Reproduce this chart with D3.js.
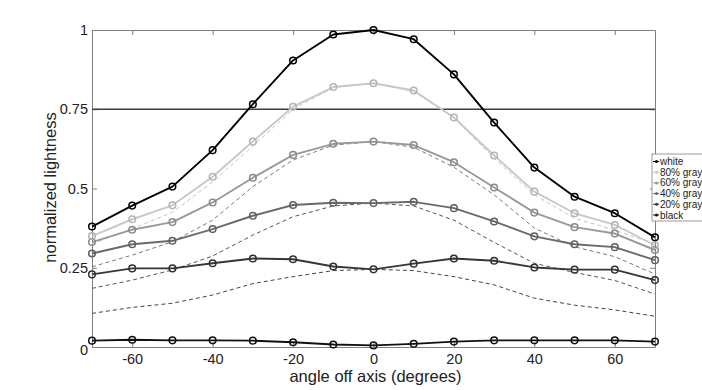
<!DOCTYPE html>
<html>
<head>
<meta charset="utf-8">
<script src="https://cdn.jsdelivr.net/npm/d3@7"></script>
<style>
  html, body { margin: 0; padding: 0; background: #fff; }
  svg { display: block; font-family: "Liberation Sans", Arial, Helvetica, sans-serif; }
</style>
</head>
<body>
<svg id="chart" width="702" height="390"></svg>
<script>
// ---- data ----
const angles = [-70, -60, -50, -40, -30, -20, -10, 0, 10, 20, 30, 40, 50, 60, 70];
const seriesNames = ["white", "80% gray", "60% gray", "40% gray", "20% gray", "black"];
const whiteVals  = [0.380, 0.446, 0.506, 0.621, 0.766, 0.904, 0.986, 1.000, 0.971, 0.860, 0.708, 0.566, 0.474, 0.422, 0.346];
const gray80Vals = [0.350, 0.403, 0.447, 0.537, 0.648, 0.758, 0.820, 0.832, 0.809, 0.724, 0.604, 0.490, 0.422, 0.385, 0.321];
const gray60Vals = [0.331, 0.370, 0.394, 0.456, 0.534, 0.606, 0.641, 0.648, 0.637, 0.583, 0.503, 0.424, 0.378, 0.358, 0.306];
const gray40Vals = [0.295, 0.324, 0.335, 0.372, 0.414, 0.448, 0.455, 0.454, 0.458, 0.438, 0.396, 0.349, 0.324, 0.315, 0.274];
const gray20Vals = [0.229, 0.248, 0.248, 0.264, 0.279, 0.277, 0.254, 0.245, 0.263, 0.279, 0.272, 0.251, 0.244, 0.244, 0.211];
const blackVals  = [0.020, 0.023, 0.021, 0.021, 0.020, 0.015, 0.008, 0.005, 0.010, 0.017, 0.021, 0.021, 0.021, 0.021, 0.017];
// dashed reference curves
const gray80Ref = [0.325, 0.373, 0.425, 0.521, 0.634, 0.750, 0.818, 0.832, 0.806, 0.722, 0.595, 0.480, 0.406, 0.369, 0.324];
const gray60Ref = [0.253, 0.290, 0.332, 0.400, 0.506, 0.590, 0.637, 0.648, 0.630, 0.567, 0.480, 0.375, 0.316, 0.285, 0.230];
const gray40Ref = [0.185, 0.211, 0.243, 0.287, 0.353, 0.411, 0.445, 0.454, 0.445, 0.400, 0.330, 0.264, 0.235, 0.210, 0.167];
const gray20Ref = [0.106, 0.125, 0.138, 0.164, 0.200, 0.222, 0.241, 0.245, 0.241, 0.222, 0.196, 0.154, 0.132, 0.117, 0.097];
const xTicks = [-60, -40, -20, 0, 20, 40, 60];
const xTickLabels = ["-60", "-40", "-20", "0", "20", "40", "60"];
const yTicks = [0, 0.25, 0.5, 0.75, 1];
const yTickLabels = ["0", "0.25", "0.5", "0.75", "1"];
const refLevel = 0.75;
const xLabel = "angle off axis (degrees)";
const yLabel = "normalized lightness";

// ---- styles ----
const solidColors = ["#000000", "#c8c8c8", "#999999", "#6a6a6a", "#363636", "#111111"];
const dashColors = ["#c4c4c4", "#7a7a7a", "#555555", "#444444"];
const solidSeries = [whiteVals, gray80Vals, gray60Vals, gray40Vals, gray20Vals, blackVals];
const dashSeries = [gray80Ref, gray60Ref, gray40Ref, gray20Ref];

const L = 92, R = 655, T = 30, B = 347;
const svg = d3.select("#chart");
const x = d3.scaleLinear().domain([-70, 70]).range([L, R]);
const y = d3.scaleLinear().domain([0, 1]).range([B, T]);
const axisColor = "#7f7f7f";

// axes box
const gB = svg.append("g").attr("transform", `translate(0,${B})`)
  .call(d3.axisBottom(x).tickValues(xTicks).tickSize(-5).tickSizeOuter(0).tickPadding(6.5).tickFormat((d, i) => xTickLabels[i]));
const gT = svg.append("g").attr("transform", `translate(0,${T})`)
  .call(d3.axisTop(x).tickValues(xTicks).tickSize(-5).tickSizeOuter(0).tickFormat(""));
const gL = svg.append("g").attr("transform", `translate(${L},0)`)
  .call(d3.axisLeft(y).tickValues(yTicks).tickSize(-5).tickSizeOuter(0).tickPadding(4).tickFormat((d, i) => yTickLabels[i]));
const gR = svg.append("g").attr("transform", `translate(${R},0)`)
  .call(d3.axisRight(y).tickValues(yTicks).tickSize(-5).tickSizeOuter(0).tickFormat(""));
[gB, gT, gL, gR].forEach(g => {
  g.selectAll("path.domain").attr("stroke", axisColor).attr("stroke-width", 1);
  g.selectAll(".tick line").attr("stroke", axisColor).attr("stroke-width", 1);
  g.selectAll(".tick text").attr("fill", "#222").style("font-size", "14.5px");
});
gL.selectAll(".tick text").filter(d => d === 0).attr("dy", "0.55em");

// reference line at 0.75
svg.append("line").attr("x1", x(-70)).attr("x2", x(70))
  .attr("y1", y(refLevel)).attr("y2", y(refLevel))
  .attr("stroke", "#3c3c3c").attr("stroke-width", 1.3);

const line = d3.line().x((d, i) => x(angles[i])).y(d => y(d));

// dashed curves
dashSeries.forEach((s, k) => {
  svg.append("path").datum(s).attr("d", line)
    .attr("fill", "none").attr("stroke", dashColors[k])
    .attr("stroke-width", 1).attr("stroke-dasharray", "4,3");
});

// solid series with markers
const order = [5, 4, 3, 2, 1, 0];
order.forEach(k => {
  const s = solidSeries[k];
  svg.append("path").datum(s).attr("d", line)
    .attr("fill", "none").attr("stroke", solidColors[k])
    .attr("stroke-width", 1.9).attr("stroke-linejoin", "round");
  svg.append("g").selectAll("circle").data(s).join("circle")
    .attr("cx", (d, i) => x(angles[i])).attr("cy", d => y(d)).attr("r", 3.3)
    .attr("fill", "none").attr("stroke", d3.color(solidColors[k]).darker(0.3))
    .attr("stroke-width", 1.5);
});

// axis labels
svg.append("text").attr("x", (L + R) / 2 + 2).attr("y", 381.5)
  .attr("text-anchor", "middle").attr("fill", "#222").style("font-size", "16.5px").text(xLabel);
svg.append("text").attr("transform", `translate(56,${(T + B) / 2 - 1}) rotate(-90)`)
  .attr("text-anchor", "middle").attr("fill", "#222").style("font-size", "16.5px").text(yLabel);

// legend
const lg = svg.append("g").attr("transform", "translate(652,154)");
lg.append("rect").attr("x", 0).attr("y", 0).attr("width", 60).attr("height", 67)
  .attr("fill", "#fff").attr("stroke", "#9a9a9a").attr("stroke-width", 1);
seriesNames.forEach((n, i) => {
  const yy = 7.5 + i * 10.7;
  lg.append("line").attr("x1", 1).attr("x2", 7).attr("y1", yy).attr("y2", yy)
    .attr("stroke", solidColors[i]).attr("stroke-width", 1);
  lg.append("circle").attr("cx", 4.5).attr("cy", yy).attr("r", 1.5).attr("fill", solidColors[i]);
  lg.append("text").attr("x", 8).attr("y", yy).attr("dy", "0.35em")
    .attr("fill", "#222").style("font-size", "10px").text(n);
});
</script>
</body>
</html>
